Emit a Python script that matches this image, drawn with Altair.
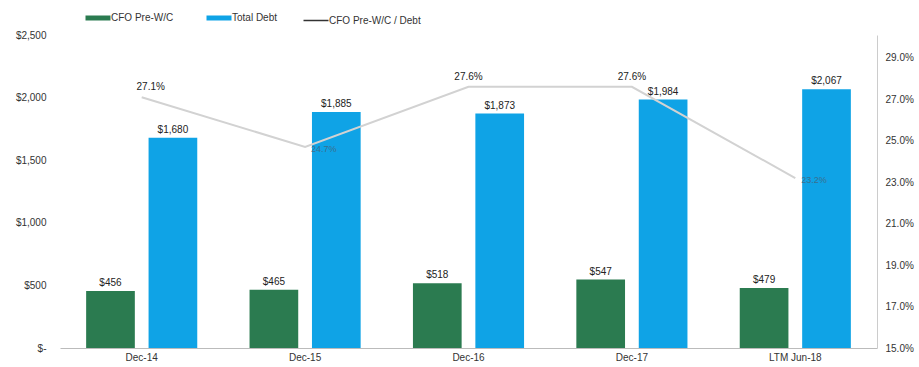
import altair as alt
import pandas as pd

categories = ["Dec-14", "Dec-15", "Dec-16", "Dec-17", "LTM Jun-18"]
cfo_pre_wc = [456, 465, 518, 547, 479]
total_debt = [1680, 1885, 1873, 1984, 2067]
cfo_to_debt = [0.271, 0.247, 0.276, 0.276, 0.232]
label_right_cats = ["Dec-15", "LTM Jun-18"]

S1, S2, S3 = "CFO Pre-W/C", "Total Debt", "CFO Pre-W/C / Debt"
GREEN, BLUE, DARK, LINE = "#2b7b50", "#0fa3e6", "#333333", "#d2d2d2"
FONT = "Liberation Sans"

bars = pd.DataFrame({
    "cat": categories * 2,
    "series": [S1] * len(categories) + [S2] * len(categories),
    "value": cfo_pre_wc + total_debt,
})
ratio = pd.DataFrame({"cat": categories, "ratio": cfo_to_debt})

xscale = alt.Scale(domain=categories, paddingInner=0.32, paddingOuter=0.16)
xaxis = alt.Axis(title=None, labelAngle=0, ticks=False, domain=True, domainColor="#bbbbbb",
                 labelFontSize=10, labelColor=DARK, labelFont=FONT, labelPadding=4)
color_scale = alt.Scale(domain=[S1, S2, S3], range=[GREEN, BLUE, DARK])

legend = alt.Legend(
    title=None, orient="none", legendX=33, legendY=-22, direction="horizontal",
    symbolType="stroke", symbolSize=625, labelFontSize=10, labelFont=FONT,
    labelColor=DARK, columnPadding=22, labelOffset=8,
    symbolStrokeColor={"expr": "scale('color', datum.value)"},
    symbolStrokeWidth={"expr": "datum.label === 'CFO Pre-W/C / Debt' ? 1.5 : 5"},
)

base_bars = alt.Chart(bars).encode(
    x=alt.X("cat:N", scale=xscale, axis=xaxis, sort=categories),
    xOffset=alt.XOffset("series:N", scale=alt.Scale(domain=[S1, S2], paddingInner=0.22)),
    y=alt.Y("value:Q", scale=alt.Scale(domain=[0, 2500]),
            axis=alt.Axis(title=None, values=[0, 500, 1000, 1500, 2000, 2500],
                          labelExpr="datum.value == 0 ? '$-' : '$' + format(datum.value, ',')",
                          grid=False, ticks=False, domain=False,
                          labelFontSize=10, labelFont=FONT, labelColor=DARK, labelPadding=14)),
)
bar_layer = base_bars.mark_bar().encode(
    color=alt.Color("series:N", scale=color_scale, legend=legend)
)
bar_text = base_bars.mark_text(dy=-8, fontSize=10, font=FONT, color="#222222").encode(
    text=alt.Text("value:Q", format="$,.0f")
)
left = alt.layer(bar_layer, bar_text)

rscale = alt.Scale(domain=[0.15, 0.301])
line_base = alt.Chart(ratio).encode(
    x=alt.X("cat:N", scale=xscale, axis=xaxis, sort=categories),
    y=alt.Y("ratio:Q", scale=rscale,
            axis=alt.Axis(title=None, orient="right", format=".1%",
                          values=[0.15, 0.17, 0.19, 0.21, 0.23, 0.25, 0.27, 0.29],
                          grid=False, ticks=False, domain=True, domainColor="#cccccc",
                          labelFontSize=10, labelFont=FONT, labelColor=DARK, labelPadding=8)),
)
line = line_base.mark_line(strokeWidth=2).encode(
    color=alt.datum(S3), stroke=alt.value(LINE)
)
txt_first = line_base.transform_filter(
    alt.FieldEqualPredicate(field="cat", equal=categories[0])
).mark_text(dx=9, dy=-10, fontSize=10, font=FONT, color="#222222").encode(
    text=alt.Text("ratio:Q", format=".1%")
)
txt_above = line_base.transform_filter(
    ~alt.FieldOneOfPredicate(field="cat", oneOf=label_right_cats + [categories[0]])
).mark_text(dy=-10, fontSize=10, font=FONT, color="#222222").encode(
    text=alt.Text("ratio:Q", format=".1%")
)
txt_right = line_base.transform_filter(
    alt.FieldOneOfPredicate(field="cat", oneOf=label_right_cats)
).mark_text(align="left", dx=6, dy=2, fontSize=9, font=FONT, color="#3a6f8f").encode(
    text=alt.Text("ratio:Q", format=".1%")
)
right = alt.layer(line, txt_first, txt_above, txt_right)

chart = alt.layer(left, right).resolve_scale(y="independent").properties(
    width=817, height=313,
    background="white",
    autosize=alt.AutoSizeParams(type="none"),
    padding={"left": 60, "top": 35, "right": 42, "bottom": 19},
).configure_view(stroke=None)

chart.save("out.html", embed_options={"renderer": "svg", "actions": False})
